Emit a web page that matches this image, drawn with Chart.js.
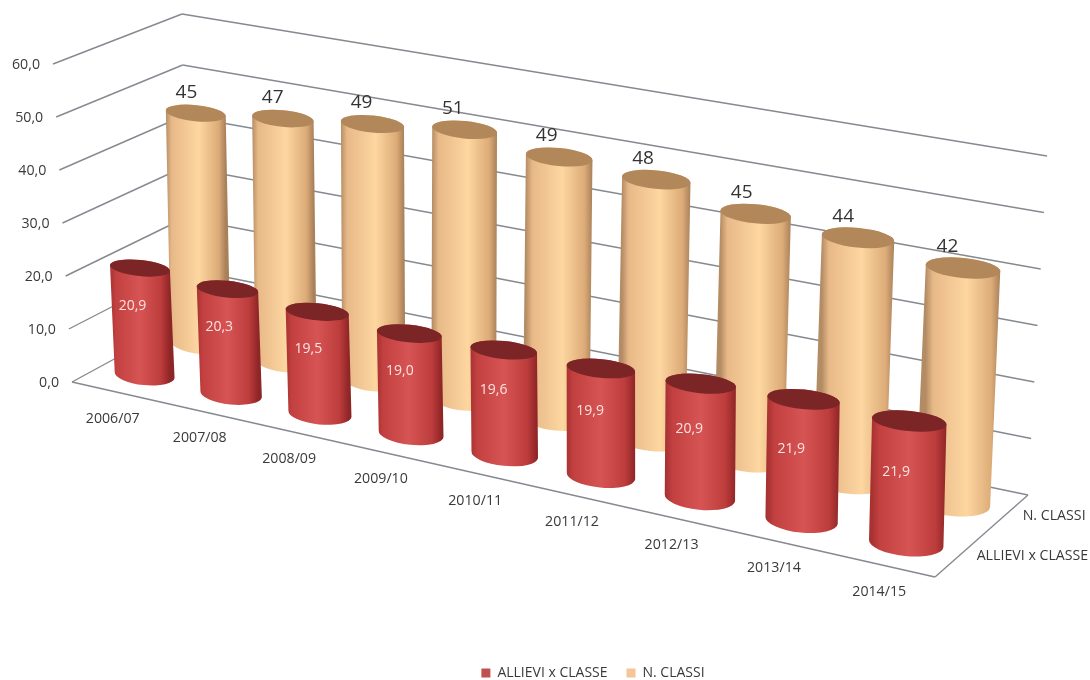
<!DOCTYPE html>
<html>
<head>
<meta charset="utf-8">
<style>
  html, body { margin: 0; padding: 0; background: #fff; }
  canvas { display: block; }
</style>
<script src="https://cdn.jsdelivr.net/npm/chart.js@4"></script>
</head>
<body>
<canvas id="chart" width="1090" height="680"></canvas>
<script>
const years = ['2006/07', '2007/08', '2008/09', '2009/10', '2010/11', '2011/12', '2012/13', '2013/14', '2014/15'];
const allieviPerClasse = [20.9, 20.3, 19.5, 19.0, 19.6, 19.9, 20.9, 21.9, 21.9];
const numeroClassi = [45, 47, 49, 51, 49, 48, 45, 44, 42];
const seriesNames = ['ALLIEVI x CLASSE', 'N. CLASSI'];

const FONT = '"Open Sans", sans-serif';
const TEXT = '#3a3a3a';
const GRID = '#858a90';

// corners of the 3D box on screen: front/back, left/right, floor/top
const box = {
  fl0: [72, 382], fr0: [935, 577], bl0: [186, 320], br0: [1028, 495],
  fl1: [53, 64], fr1: [942, 226], bl1: [182, 14], br1: [1047, 156]
};
const rowDepth = [0.265, 0.76];
const rowHeight = [0.97, 0.99]; // box is a bit taller than the columns after the skew
const persp = 0.13; // columns get wider and further apart to the right

const mix = (a, b, t) => [a[0] + (b[0] - a[0]) * t, a[1] + (b[1] - a[1]) * t];
const warp = u => u / (1 + persp * (1 - u));
const warpSlope = u => (1 + persp) / Math.pow(1 + persp * (1 - u), 2);

function project(u, d, v) {
  const w = warp(u);
  const floor = mix(mix(box.fl0, box.fr0, w), mix(box.bl0, box.br0, w), d);
  const top = mix(mix(box.fl1, box.fr1, w), mix(box.bl1, box.br1, w), d);
  return mix(floor, top, v);
}

function line(ctx, a, b) {
  ctx.beginPath();
  ctx.moveTo(a[0], a[1]);
  ctx.lineTo(b[0], b[1]);
  ctx.stroke();
}

const paints = [
  { top: '#7b2526', stops: [[0, '#a83232'], [0.1, '#c24040'], [0.5, '#d65454'], [0.85, '#bd3c3c'], [1, '#8e2526']] },
  { top: '#b28759', stops: [[0, '#b48c64'], [0.1, '#e8b988'], [0.55, '#fdd6a0'], [0.88, '#dcab78'], [1, '#a88059']] }
];

function cylinder(ctx, base, top, rx, paint) {
  const ry = rx * 0.27;
  const rot = 0.1;
  const g = ctx.createLinearGradient(top[0] - rx, 0, top[0] + rx, 0);
  paint.stops.forEach(s => g.addColorStop(s[0], s[1]));
  ctx.beginPath();
  ctx.ellipse(top[0], top[1], rx, ry, rot, Math.PI, Math.PI * 2);
  ctx.ellipse(base[0], base[1], rx, ry * 1.25, rot, 0, Math.PI);
  ctx.closePath();
  ctx.fillStyle = g;
  ctx.fill();
  ctx.beginPath();
  ctx.ellipse(top[0], top[1], rx, ry, rot, 0, Math.PI * 2);
  ctx.fillStyle = paint.top;
  ctx.fill();
}

const box3d = {
  id: 'box3d',
  beforeDatasetsDraw(chart) {
    const { ctx, scales: { y } } = chart;
    const area = chart.chartArea;
    ctx.save();
    ctx.strokeStyle = GRID;
    ctx.lineWidth = 1.4;
    y.ticks.forEach(t => {
      const v = (area.bottom - y.getPixelForValue(t.value)) / area.height;
      const a = project(0, 0, v), b = project(0, 1, v), c = project(1, 1, v);
      line(ctx, a, b);
      line(ctx, b, c);
      ctx.font = '14.2px ' + FONT;
      ctx.fillStyle = TEXT;
      ctx.textAlign = 'right';
      ctx.textBaseline = 'middle';
      ctx.fillText(t.label, a[0] - 13, a[1] + 1);
    });
    line(ctx, project(0, 0, 0), project(1, 0, 0));
    line(ctx, project(1, 0, 0), project(1, 1, 0));
    ctx.restore();
  },
  beforeDatasetDraw() {
    return false; // the flat bars are replaced by the cylinders below
  },
  afterDatasetsDraw(chart) {
    const { ctx, scales: { x } } = chart;
    const area = chart.chartArea;
    const heightOf = (bar, s) => (area.bottom - bar.y) / area.height * rowHeight[s];
    ctx.save();
    // back row first so the front row covers it
    for (let s = chart.data.datasets.length - 1; s >= 0; s--) {
      chart.getDatasetMeta(s).data.forEach(bar => {
        const u = (bar.x - area.left) / area.width;
        const b = project(u, rowDepth[s], 0);
        const t = project(u, rowDepth[s], heightOf(bar, s));
        cylinder(ctx, b, t, bar.width / 2 * warpSlope(u), paints[s]);
      });
    }
    ctx.textAlign = 'center';
    ctx.textBaseline = 'middle';
    chart.getDatasetMeta(1).data.forEach((bar, i) => {
      const u = (bar.x - area.left) / area.width;
      const t = project(u, rowDepth[1], heightOf(bar, 1));
      ctx.font = '19px ' + FONT;
      ctx.fillStyle = '#333333';
      ctx.fillText(numeroClassi[i], t[0] - 9 - 7 * u, t[1] - 21);
    });
    chart.getDatasetMeta(0).data.forEach((bar, i) => {
      const u = (bar.x - area.left) / area.width;
      const t = project(u, rowDepth[0], heightOf(bar, 0) * (0.65 - 0.07 * u));
      ctx.font = '14px ' + FONT;
      ctx.fillStyle = '#fbe3e0';
      ctx.fillText(allieviPerClasse[i].toFixed(1).replace('.', ','), t[0] - 9 - 3 * u, t[1]);
    });
    // category labels along the front edge of the floor
    ctx.font = '14.2px ' + FONT;
    ctx.fillStyle = TEXT;
    years.forEach((label, i) => {
      const u = (x.getPixelForValue(i) - area.left) / area.width;
      const p = project(u, 0, 0);
      ctx.fillText(label, p[0] - 2, p[1] + 27);
    });
    // series names along the right edge
    ctx.textAlign = 'left';
    seriesNames.forEach((name, s) => {
      const p = project(1, rowDepth[s], 0);
      ctx.fillText(name, p[0] + 17, p[1] + 1);
    });
    ctx.restore();
  }
};

new Chart(document.getElementById('chart'), {
  type: 'bar',
  data: {
    labels: years,
    datasets: [
      { label: seriesNames[0], data: allieviPerClasse, backgroundColor: '#c0504d' },
      { label: seriesNames[1], data: numeroClassi, backgroundColor: '#f5c595' }
    ]
  },
  options: {
    responsive: false,
    animation: false,
    // negative sides push the legend right and down to where the original has it
    layout: { padding: { left: 72, right: -24, top: 64, bottom: -10 } },
    datasets: { bar: { grouped: false, barPercentage: 0.7, categoryPercentage: 1 } },
    plugins: {
      tooltip: { enabled: false },
      legend: {
        position: 'bottom',
        labels: {
          boxWidth: 9,
          boxHeight: 9,
          padding: 19,
          color: TEXT,
          font: { family: '"Open Sans", sans-serif', size: 14 }
        }
      }
    },
    scales: {
      x: {
        grid: { display: false },
        border: { display: false },
        ticks: { display: false, autoSkip: false },
        afterFit(scale) { scale.height = 249; }
      },
      y: {
        min: 0,
        max: 60,
        grid: { display: false },
        border: { display: false },
        ticks: {
          display: false,
          stepSize: 10,
          callback: v => v.toFixed(1).replace('.', ',')
        },
        afterFit(scale) { scale.width = 0; }
      },
      // empty axis, keeps the room on the right for the series names
      side: {
        position: 'right',
        grid: { display: false },
        border: { display: false },
        ticks: { display: false },
        afterFit(scale) { scale.width = 179; }
      }
    }
  },
  plugins: [box3d]
});
</script>
</body>
</html>
